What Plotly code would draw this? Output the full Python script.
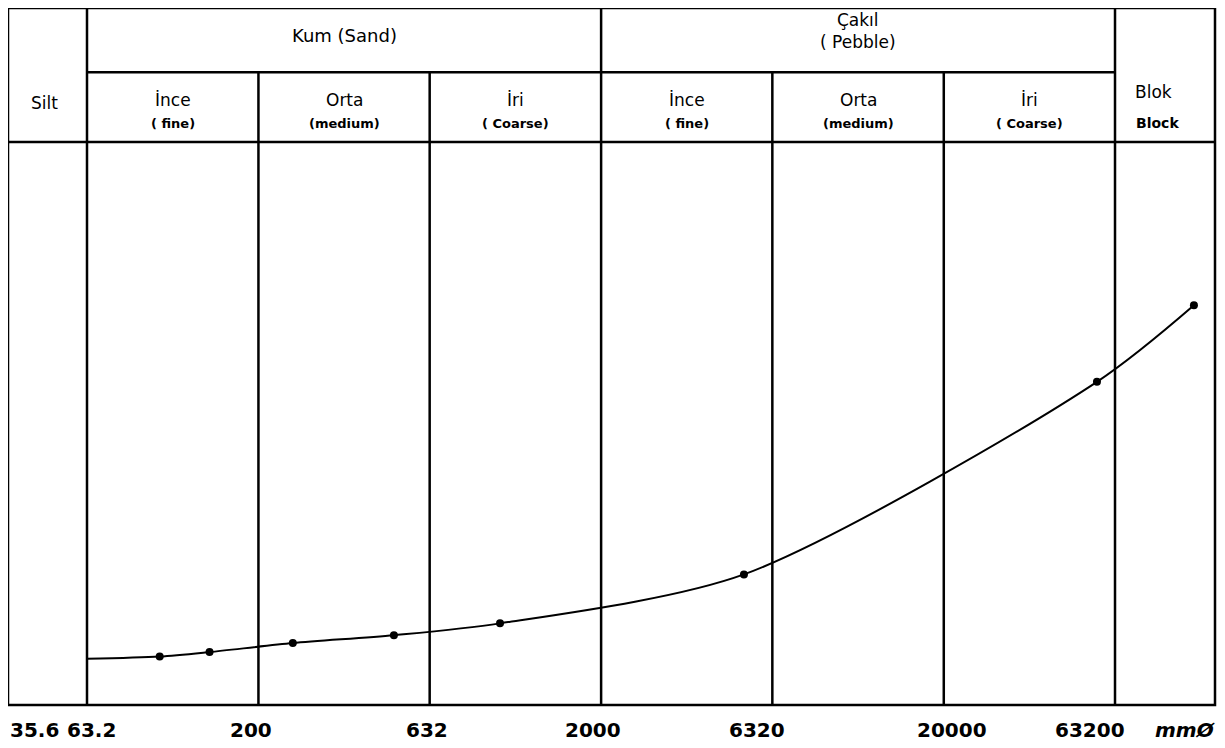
import math
import plotly.graph_objects as go

# ---- data ----
boundaries = [35.6, 63.2, 200, 632, 2000, 6320, 20000, 63200]
tick_labels = ["35.6", "63.2", "200", "632", "2000", "6320", "20000", "63200"]
curve_x = [63.2, 103, 144, 252, 497, 1014, 5222, 55980, 107400]
curve_y = [8.2, 8.6, 9.4, 11.0, 12.4, 14.5, 23.2, 57.4, 71.0]
marker_x = curve_x[1:]
marker_y = curve_y[1:]
main_classes = ["Kum (Sand)", "Çakıl<br>( Pebble)"]
sub_top = ["İnce", "Orta", "İri", "İnce", "Orta", "İri"]
sub_bot = ["( fine)", "(medium)", "( Coarse)", "( fine)", "(medium)", "( Coarse)"]
unit_label = "mmØ"

# ---- layout geometry (page body has an 8px offset) ----
px_per_dec = 342.67
plot_left, plot_right = 8, 1215
plot_w = plot_right - plot_left
x_lo = math.log10(63.2) - (87 - plot_left) / px_per_dec
x_hi = x_lo + plot_w / px_per_dec
y_scale = 5.63            # px per y unit
y_top = (705 - 8) / y_scale
y_sub = 112.4
y_head = 100.0

def px_to_lx(px):
    return x_lo + (px - plot_left) / px_per_dec

fig = go.Figure()
line_style = dict(color="black", width=2.5)

# vertical lines
vx, vy = [], []
for b in [63.2, 2000, 63200]:
    vx += [b, b, None]
    vy += [0, y_top, None]
for b in [200, 632, 6320, 20000]:
    vx += [b, b, None]
    vy += [0, y_sub, None]
fig.add_trace(go.Scatter(x=vx, y=vy, mode="lines", line=line_style,
                         hoverinfo="skip", showlegend=False))
# horizontal lines
hx = [63.2, 63200, None, 10 ** x_lo, 10 ** x_hi, None]
hy = [y_sub, y_sub, None, y_head, y_head, None]
fig.add_trace(go.Scatter(x=hx, y=hy, mode="lines", line=line_style,
                         hoverinfo="skip", showlegend=False))

# curve
fig.add_trace(go.Scatter(x=curve_x, y=curve_y, mode="lines",
                         line=dict(color="black", width=2, shape="spline", smoothing=0.8),
                         hoverinfo="skip", showlegend=False))
fig.add_trace(go.Scatter(x=marker_x, y=marker_y, mode="markers",
                         marker=dict(color="black", size=8),
                         showlegend=False))

ann = []
FAM = "DejaVu Sans"
hfont = dict(family=FAM, size=18, color="black")
sfont = dict(family=FAM, size=17, color="black")
bfont = dict(family=FAM, size=13, color="black")

def lc(a, b):
    return (math.log10(a) + math.log10(b)) / 2

# main header
ann.append(dict(x=lc(63.2, 2000), y=119.0, text=main_classes[0], font=hfont))
ann.append(dict(x=lc(2000, 63200), y=119.7, text=main_classes[1], font=sfont))
# silt / blok
ann.append(dict(x=px_to_lx(44), y=106.9, text="Silt", font=sfont))
ann.append(dict(x=px_to_lx(1153), y=108.9, text="Blok", font=sfont))
ann.append(dict(x=px_to_lx(1157), y=103.4, text="<b>Block</b>", font=dict(family=FAM, size=14, color="black")))
# sub classes
for i in range(6):
    a, b = boundaries[i + 1], boundaries[i + 2]
    c = lc(a, b)
    ann.append(dict(x=c, y=107.5, text=sub_top[i], font=sfont))
    ann.append(dict(x=c, y=103.2, text="<b>" + sub_bot[i] + "</b>", font=bfont))

for a in ann:
    a.update(xref="x", yref="y", showarrow=False, xanchor="center", yanchor="middle")

# tick labels
tfont = dict(family=FAM, size=20, color="black")
ann.append(dict(x=0, y=0, xref="paper", yref="paper", text="<b>" + tick_labels[0] + "</b>",
                showarrow=False, xanchor="left", yanchor="middle", yshift=-25, xshift=0,
                font=tfont))
shifts = [4, -7, -3, -8, -15, 8, -25]
for v, t, s in zip(boundaries[1:], tick_labels[1:], shifts):
    ann.append(dict(x=math.log10(v), y=0, xref="x", yref="paper", text="<b>" + t + "</b>",
                    showarrow=False, xanchor="center", yanchor="middle", yshift=-25, xshift=s,
                    font=tfont))
ann.append(dict(x=px_to_lx(1185), y=0, xref="x", yref="paper",
                text="<b><i>" + unit_label + "</i></b>",
                showarrow=False, xanchor="center", yanchor="middle", yshift=-25,
                font=tfont))

fig.update_layout(
    width=1217, height=740,
    margin=dict(l=0, r=10, t=0, b=43),
    paper_bgcolor="white", plot_bgcolor="white",
    xaxis=dict(type="log", range=[x_lo, x_hi], showgrid=False, zeroline=False,
               showticklabels=False, ticks="", showline=False),
    yaxis=dict(range=[0, y_top], showgrid=False, zeroline=False,
               showticklabels=False, ticks="", showline=False),
    annotations=ann,
    shapes=[dict(type="rect", xref="paper", yref="paper", x0=0, x1=1, y0=0, y1=1,
                 line=dict(color="black", width=2.5))],
)

fig.write_html("out.html")
